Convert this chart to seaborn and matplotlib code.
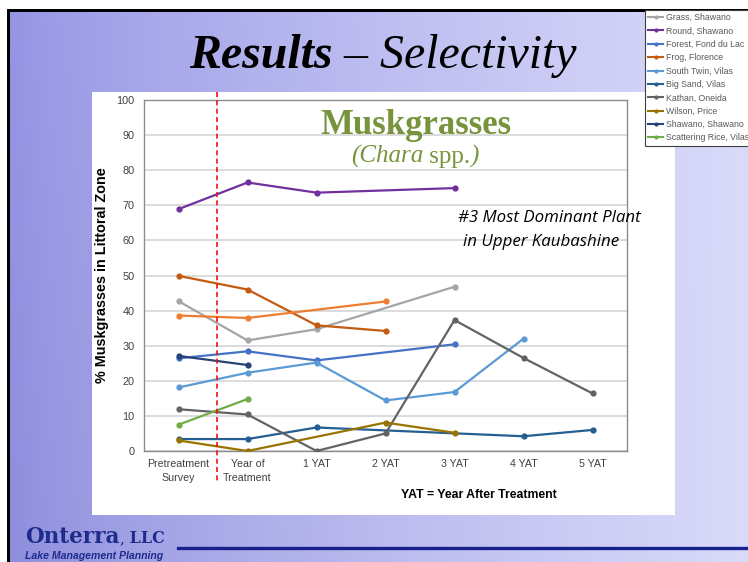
import numpy as np
import pandas as pd
import matplotlib
matplotlib.use("Agg")
import matplotlib.pyplot as plt
from matplotlib.lines import Line2D
from matplotlib.patches import Rectangle
import seaborn as sns

# ---- data -------------------------------------------------------------
periods = ["Pretreatment\nSurvey", "Year of\nTreatment", "1 YAT", "2 YAT",
           "3 YAT", "4 YAT", "5 YAT"]
nan = np.nan
grass_shawano = [42.7, 31.5, 34.7, nan, 46.8, nan, nan]
round_shawano = [68.9, 76.5, 73.6, nan, 74.9, nan, nan]
forest_fond_du_lac = [26.4, 28.4, 25.8, nan, 30.4, nan, nan]
frog_florence = [49.9, 46.0, 35.8, 34.2, nan, nan, nan]
south_twin_vilas = [18.1, 22.3, 25.2, 14.4, 16.8, 32.0, nan]
big_sand_vilas = [3.4, 3.4, 6.7, nan, nan, 4.2, 6.0]
kathan_oneida = [11.9, 10.4, 0.0, 5.0, 37.3, 26.5, 16.4]
wilson_price = [3.0, 0.0, nan, 8.1, 5.2, nan, nan]
shawano_shawano = [27.1, 24.5, nan, nan, nan, nan, nan]
scattering_rice_vilas = [7.5, 14.8, nan, nan, nan, nan, nan]
extra_lake = [38.6, 37.9, nan, 42.6, nan, nan, nan]

lake_names = ["Grass, Shawano", "Round, Shawano", "Forest, Fond du Lac",
              "Frog, Florence", "South Twin, Vilas", "Big Sand, Vilas",
              "Kathan, Oneida", "Wilson, Price", "Shawano, Shawano",
              "Scattering Rice, Vilas"]
lake_values = [grass_shawano, round_shawano, forest_fond_du_lac, frog_florence,
               south_twin_vilas, big_sand_vilas, kathan_oneida, wilson_price,
               shawano_shawano, scattering_rice_vilas]
lake_colors = ["#A5A5A5", "#7030A0", "#4472C4", "#C55A11", "#5B9BD5",
               "#255E91", "#636363", "#997300", "#264478", "#70AD47"]
extra_color = "#ED7D31"

W, H = 748, 562
fig = plt.figure(figsize=(W / 100, H / 100), dpi=100)


def fx(px):
    return px / W


def fy(py):
    return 1 - py / H


# ---- slide background ---------------------------------------------------
bg = fig.add_axes([0, 0, 1, 1], zorder=-20)
bg.set_axis_off()
t = (np.arange(W) / (W - 1)) ** 0.75
v = np.arange(H)[:, None] / (H - 1)
left = np.array([146, 146, 228]) / 255
right = np.array([218, 218, 250]) / 255
grad = left[None, None, :] + (right - left)[None, None, :] * t[None, :, None]
grad = grad - 0.03 * (v[..., None]) * (1 - t[None, :, None])
grad = np.clip(grad, 0, 1)
bg.imshow(grad, aspect="auto", extent=[0, 1, 0, 1], origin="upper")
bg.set_xlim(0, 1)
bg.set_ylim(0, 1)

# white margins and black slide frame
fig.patches.append(Rectangle((0, fy(9)), 1, 1 - fy(9), transform=fig.transFigure,
                             facecolor="white", edgecolor="none", zorder=-5))
fig.patches.append(Rectangle((0, 0), fx(7), 1, transform=fig.transFigure,
                             facecolor="white", edgecolor="none", zorder=-5))
fig.patches.append(Rectangle((fx(7), fy(12)), 1, fy(9) - fy(12),
                             transform=fig.transFigure, facecolor="black",
                             edgecolor="none", zorder=-4))
fig.patches.append(Rectangle((fx(7), 0), fx(3), fy(9),
                             transform=fig.transFigure, facecolor="black",
                             edgecolor="none", zorder=-4))

# white chart area
fig.patches.append(Rectangle((fx(92), fy(515)), fx(675) - fx(92), fy(92) - fy(515),
                             transform=fig.transFigure, facecolor="white",
                             edgecolor="none", zorder=-3))

# ---- line chart -----------------------------------------------------------
rows = []
for name, vals in zip(lake_names, lake_values):
    for i, val in enumerate(vals):
        rows.append({"lake": name, "pos": i, "pct": val})
for i, val in enumerate(extra_lake):
    rows.append({"lake": "extra", "pos": i, "pct": val})
df = pd.DataFrame(rows).dropna()

palette = dict(zip(lake_names, lake_colors))
palette["extra"] = extra_color

ax = fig.add_axes([fx(144), fy(451), fx(627) - fx(144), fy(100) - fy(451)])
ax.set_facecolor("white")
sns.lineplot(data=df, x="pos", y="pct", hue="lake", palette=palette,
             hue_order=lake_names + ["extra"], marker="o", markersize=4.5,
             markeredgewidth=0, linewidth=1.6, estimator=None, legend=False,
             ax=ax, zorder=3)

ax.set_xlim(-0.5, 6.5)
ax.set_ylim(0, 100)
ax.set_yticks(np.arange(0, 101, 10))
ax.set_xticks(range(len(periods)))
ax.set_xticklabels(periods, fontsize=7.7, family="Liberation Sans", color="#404040",
                   linespacing=1.4)
ax.set_yticklabels([str(v) for v in range(0, 101, 10)], fontsize=7.8,
                   family="Liberation Sans", color="#404040")
ax.tick_params(axis="both", length=0)
ax.tick_params(axis="y", pad=7)
ax.tick_params(axis="x", pad=6)
ax.grid(axis="y", color="#D9D9D9", linewidth=1.3, zorder=0)
ax.set_axisbelow(True)
for sp in ax.spines.values():
    sp.set_color("#8C8C8C")
    sp.set_linewidth(1.0)

ax.set_ylabel("% Muskgrasses in Littoral Zone", fontsize=10.4, fontweight="bold",
              family="Liberation Sans", color="black", labelpad=5)
ax.set_xlabel("YAT = Year After Treatment", fontsize=8.8, fontweight="bold",
              family="Liberation Sans", color="black")
ax.xaxis.set_label_coords((479 - 144) / 483, -0.108)

# treatment divider
fig.add_artist(Line2D([fx(216.5), fx(216.5)], [fy(92), fy(481)],
                      transform=fig.transFigure, color="#F01010",
                      linestyle=(0, (3, 2)), linewidth=1.2, zorder=5))

# ---- text blocks ------------------------------------------------------------
renderer = fig.canvas.get_renderer()


def text_run(x_px, y_px, parts, center=False):
    """Place successive styled pieces of text on one baseline (pixel coords)."""
    objs = []
    widths = []
    for s, kw in parts:
        tt = fig.text(0, fy(y_px), s, va="baseline", ha="left", **kw)
        widths.append(tt.get_window_extent(renderer).width)
        objs.append(tt)
    x = x_px - (sum(widths) / 2 if center else 0)
    for tt, w in zip(objs, widths):
        tt.set_x(fx(x))
        x += w


serif = "Liberation Serif"
text_run(383, 68, [("Results", dict(family=serif, style="italic", weight="bold",
                                     size=34.5)),
                   (" \u2013 Selectivity", dict(family=serif, style="italic",
                                               size=34.5))], center=True)

green = "#77933C"
text_run(416, 134, [("Muskgrasses", dict(family=serif, weight="bold", size=25,
                                         color=green))], center=True)
text_run(415, 163, [("(Chara", dict(family=serif, style="italic", size=18,
                                    color=green)),
                    (" spp.", dict(family=serif, size=18, color=green)),
                    (")", dict(family=serif, style="italic", size=18,
                               color=green))], center=True)

note_kw = dict(family="Open Sans", style="italic", size=12.2, color="black")
text_run(458, 222, [("#3 Most Dominant Plant", note_kw)])
text_run(463, 246, [("in Upper Kaubashine", note_kw)])

# ---- footer logo --------------------------------------------------------------
navy = "#1F2C8C"
text_run(25, 543, [("Onterra", dict(family="DejaVu Serif", weight="bold",
                                    size=15.5, color=navy)),
                   (",", dict(family="DejaVu Serif", size=11, color=navy)),
                   (" LLC", dict(family="DejaVu Serif", weight="bold",
                                 size=11.5, color=navy))])
text_run(25, 559, [("Lake Management Planning",
                    dict(family="Liberation Sans", style="italic", weight="bold",
                         size=7.6, color=navy))])
fig.add_artist(Line2D([fx(178), 1.0], [fy(548), fy(548)], transform=fig.transFigure,
                      color="#17218C", linewidth=2.4))

# ---- legend -----------------------------------------------------------------
handles = [Line2D([], [], color=c, marker="o", markersize=3, markeredgewidth=0,
                  linewidth=1.5) for c in lake_colors]
leg = fig.legend(handles, lake_names, loc="upper left",
                 bbox_to_anchor=(fx(645), fy(10)), bbox_transform=fig.transFigure,
                 frameon=True, fancybox=False, framealpha=1, edgecolor="#3F3F3F",
                 prop=dict(family="Liberation Sans", size=6.3),
                 labelcolor="#595959", handlelength=1.75, handletextpad=0.25,
                 labelspacing=0.5, borderpad=0.35, borderaxespad=0)
leg.get_frame().set_linewidth(0.8)
leg.set_zorder(10)

fig.savefig("out.png", dpi=100)
